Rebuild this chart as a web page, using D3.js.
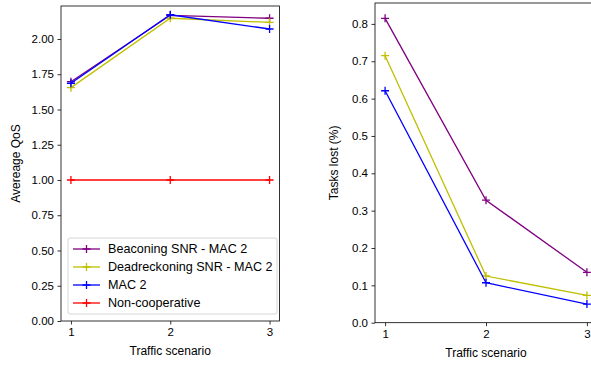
<!DOCTYPE html>
<html>
<head>
<meta charset="utf-8">
<script src="https://cdn.jsdelivr.net/npm/d3@7"></script>
<style>
body { margin: 0; background: #fff; }
svg { display: block; font-family: "Liberation Sans", Arial, sans-serif; }
.axis text { font-size: 11.5px; fill: #000; }
.axis path, .axis line { stroke: #000; stroke-width: 0.8; }
</style>
</head>
<body>
<svg width="591" height="365"></svg>
<script>
var scenarios = [1, 2, 3];
var seriesNames = ['Beaconing SNR - MAC 2', 'Deadreckoning SNR - MAC 2', 'MAC 2', 'Non-cooperative'];
var seriesColors = ['#800080', '#bfbf00', '#0000ff', '#ff0000'];

var qosBeaconing = [1.697, 2.168, 2.147];
var qosDeadreckoning = [1.655, 2.147, 2.118];
var qosMac2 = [1.686, 2.172, 2.071];
var qosNonCoop = [1.0, 1.0, 1.0];

var lostBeaconing = [0.815, 0.328, 0.135];
var lostDeadreckoning = [0.715, 0.125, 0.073];
var lostMac2 = [0.621, 0.107, 0.05];

var qosTicks = [0, 0.25, 0.5, 0.75, 1.0, 1.25, 1.5, 1.75, 2.0];
var lostTicks = [0, 0.1, 0.2, 0.3, 0.4, 0.5, 0.6, 0.7, 0.8];

var svg = d3.select('svg');

function panel(opts) {
	var g = svg.append('g').attr('transform', 'translate(' + opts.L + ',' + opts.T + ')');
	var w = opts.W, h = opts.H;

	var x = d3.scaleLinear().domain([0.9, 3.1]).range([0, w]);
	var y = d3.scaleLinear().domain(opts.yDomain).range([h, 0]);

	var line = d3.line()
		.x(function(d, i) { return x(scenarios[i]); })
		.y(function(d) { return y(d); });

	opts.series.forEach(function(s, k) {
		g.append('path')
			.attr('d', line(s))
			.attr('fill', 'none')
			.attr('stroke', seriesColors[k])
			.attr('stroke-width', 1.3);
		g.selectAll(null)
			.data(s)
			.enter()
			.append('path')
			.attr('d', 'M-4,0H4M0,-4V4')
			.attr('transform', function(d, i) { return 'translate(' + x(scenarios[i]) + ',' + y(d) + ')'; })
			.attr('stroke', seriesColors[k])
			.attr('stroke-width', 1.3);
	});

	g.append('rect')
		.attr('width', w).attr('height', h)
		.attr('fill', 'none').attr('stroke', '#000').attr('stroke-width', 0.8);

	g.append('g')
		.attr('class', 'axis')
		.attr('transform', 'translate(0,' + h + ')')
		.call(d3.axisBottom(x).tickValues(scenarios).tickFormat(d3.format('d')).tickSizeOuter(0).tickSize(3.5).tickPadding(3.5))
		.select('.domain').remove();

	g.append('g')
		.attr('class', 'axis')
		.call(d3.axisLeft(y).tickValues(opts.yTicks).tickFormat(d3.format(opts.yFormat)).tickSizeOuter(0).tickSize(3.5).tickPadding(3.5))
		.select('.domain').remove();

	g.append('text')
		.attr('x', w / 2).attr('y', h + 34)
		.attr('text-anchor', 'middle')
		.style('font-size', '12px')
		.text('Traffic scenario');

	g.append('text')
		.attr('transform', 'translate(' + opts.yLabelX + ',' + (h / 2) + ') rotate(-90)')
		.attr('text-anchor', 'middle')
		.style('font-size', '12px')
		.text(opts.yLabel);

	return g;
}

var left = panel({
	L: 61, T: 6, W: 218.5, H: 315,
	yDomain: [0, 2.234],
	yTicks: qosTicks, yFormat: '.2f',
	yLabel: 'Avereage QoS', yLabelX: -41,
	series: [qosBeaconing, qosDeadreckoning, qosMac2, qosNonCoop]
});

panel({
	L: 375, T: 3, W: 222, H: 319.7,
	yDomain: [0, 0.856],
	yTicks: lostTicks, yFormat: '.1f',
	yLabel: 'Tasks lost (%)', yLabelX: -37,
	series: [lostBeaconing, lostDeadreckoning, lostMac2]
});

// legend
var lg = left.append('g').attr('transform', 'translate(7,232)');
lg.append('rect')
	.attr('width', 209).attr('height', 76)
	.attr('rx', 2)
	.attr('fill', '#fff').attr('fill-opacity', 0.8)
	.attr('stroke', '#ccc').attr('stroke-width', 0.8);
seriesNames.forEach(function(name, i) {
	var row = lg.append('g').attr('transform', 'translate(0,' + (11 + i * 18) + ')');
	row.append('line').attr('x1', 5).attr('x2', 32).attr('stroke', seriesColors[i]).attr('stroke-width', 1.3);
	row.append('path').attr('d', 'M14.5,0H22.5M18.5,-4V4').attr('stroke', seriesColors[i]).attr('stroke-width', 1.3);
	row.append('text').attr('x', 40).attr('dy', '0.35em').style('font-size', '12.6px').text(name);
});
</script>
</body>
</html>
